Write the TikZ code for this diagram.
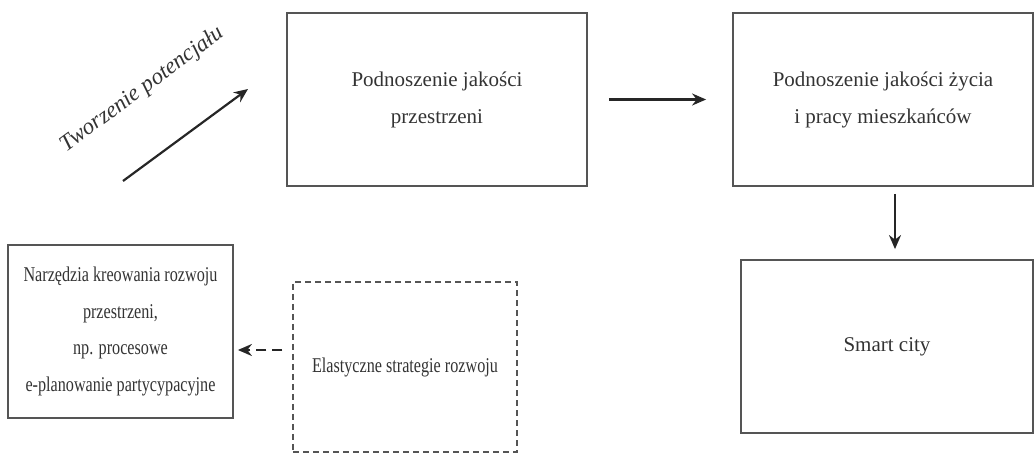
\documentclass[tikz,border=0pt]{standalone}
\usepackage{fontspec}
\setmainfont{Liberation Serif}
\newfontfamily\narrowfont{Liberation Serif}[FakeStretch=0.77]
\usepackage{xcolor}
\usetikzlibrary{positioning,arrows.meta}
\definecolor{figFrame}{HTML}{555555}
\definecolor{figText}{HTML}{333333}

\begin{document}
\begin{tikzpicture}[
  x=0.5pt, y=-0.5pt,
  every node/.style={font=\fontsize{10.5}{18.5}\selectfont, text=figText},
  box/.style={rectangle, draw=figFrame, line width=0.9pt, align=center,
    minimum height=86.5pt, inner sep=0pt},
  dbox/.style={box, line width=0.7pt, dash pattern=on 3pt off 2pt},
  narrow/.style={font=\narrowfont\fontsize{10.5}{18.3}\selectfont},
  arrow/.style={-{Stealth[length=7pt, width=6pt]}, line width=1.1pt, black!85},
  darrow/.style={arrow, dash pattern=on 5pt off 3pt},
  label/.style={font=\fontsize{11.5}{13}\selectfont\itshape},
]
\useasboundingbox (0,0) rectangle (1035,454);

% Upper row
\node[box, minimum width=150pt] (space) at (437,99.5) {Podnoszenie jakości\\przestrzeni};
\node[box, minimum width=150pt] (life) at (883,99.5) {Podnoszenie jakości życia\\i pracy mieszkańców};

% Lower row
\node[box, minimum width=146pt] (smart) at (887,346.5) {Smart city};
\node[dbox, narrow, minimum width=112pt, minimum height=85pt] (flex) at (405,367) {Elastyczne strategie rozwoju};
\node[box, narrow, minimum width=112.5pt] (tools) at (120.5,331.5)
  {Narzędzia kreowania rozwoju\\przestrzeni,\\np. procesowe\\e-planowanie partycypacyjne};

% Potential arrow
\coordinate (pot-start) at (123,181);
\coordinate (pot-end) at (248,89);
\draw[arrow] (pot-start) -- node[label, pos=0.45, sloped, above=22pt] {Tworzenie potencjału} (pot-end);

% Arrows between boxes
\draw[arrow, shorten <=10.5pt, shorten >=13pt] (space) -- (life);
\draw[arrow, shorten <=3.5pt, shorten >=5pt] ([xshift=6pt]life.south) -- ([xshift=6pt]life.south |- smart.north);
\draw[darrow, shorten <=5pt, shorten >=2pt] ([yshift=8.5pt]flex.west) -- ([yshift=8.5pt]flex.west -| tools.east);
\end{tikzpicture}
\end{document}
